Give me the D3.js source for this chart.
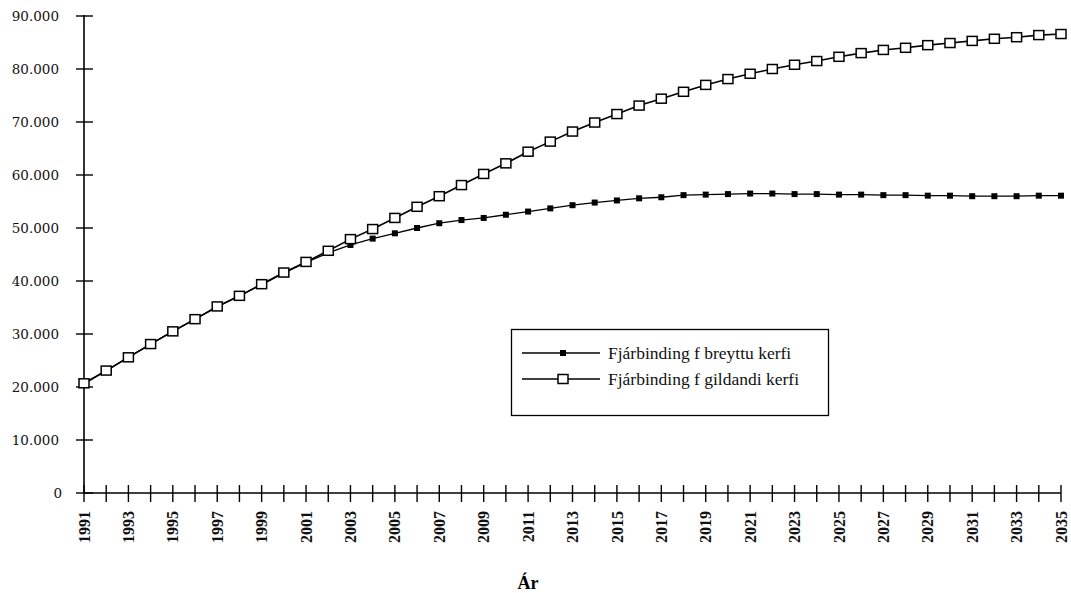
<!DOCTYPE html>
<html>
<head>
<meta charset="utf-8">
<script src="https://cdn.jsdelivr.net/npm/d3@7"></script>
<style>
  body { margin: 0; background: #fff; }
  svg { display: block; }
</style>
</head>
<body>
<svg width="1071" height="593"></svg>
<script>
// Years 1991..2035
const years = d3.range(1991, 2036);

// Fjárbinding í breyttu kerfi (filled squares)
const breyttu = [
  20.6, 23.1, 25.6, 28.1, 30.5, 32.8, 35.1, 37.2, 39.3, 41.5,
  43.5, 45.3, 46.8, 48.0, 49.0, 50.0, 50.9, 51.5, 51.9, 52.5,
  53.1, 53.7, 54.3, 54.8, 55.2, 55.6, 55.8, 56.2, 56.3, 56.4,
  56.5, 56.5, 56.4, 56.4, 56.3, 56.3, 56.2, 56.2, 56.1, 56.1,
  56.0, 56.0, 56.0, 56.1, 56.1
];

// Fjárbinding í gildandi kerfi (open squares)
const gildandi = [
  20.7, 23.1, 25.6, 28.1, 30.5, 32.8, 35.2, 37.2, 39.4, 41.6,
  43.6, 45.7, 47.9, 49.8, 51.9, 54.0, 56.0, 58.1, 60.2, 62.2,
  64.4, 66.3, 68.2, 69.9, 71.5, 73.1, 74.4, 75.7, 77.0, 78.1,
  79.1, 80.0, 80.8, 81.5, 82.3, 83.0, 83.6, 84.0, 84.5, 84.9,
  85.3, 85.7, 86.0, 86.4, 86.6
];

const yTicks = d3.range(0, 90001, 10000);
const xLabelYears = d3.range(1991, 2036, 2);
const legendLabels = ["Fjárbinding f breyttu kerfi", "Fjárbinding f gildandi kerfi"];

const svg = d3.select("svg");

const x = d3.scaleLinear().domain([1991, 2035]).range([84, 1061]);
const y = d3.scaleLinear().domain([0, 90000]).range([493, 16]);

const fmt = v => v === 0 ? "0" : d3.format(",")(v).replace(/,/g, ".");

// y axis
const yAxis = svg.append("g").attr("transform", "translate(84,0)");
yAxis.append("line")
  .attr("y1", y(0)).attr("y2", y(90000) - 1)
  .attr("stroke", "#000").attr("stroke-width", 1.6);
yAxis.selectAll(".yt").data(yTicks).enter().append("line")
  .attr("x1", -8).attr("x2", 9)
  .attr("y1", d => y(d)).attr("y2", d => y(d))
  .attr("stroke", "#000").attr("stroke-width", 1.4);
yAxis.selectAll(".yl").data(yTicks).enter().append("text")
  .attr("x", d => d === 0 ? -22 : -25)
  .attr("y", d => y(d))
  .attr("dy", "0.35em")
  .attr("text-anchor", "end")
  .attr("font-family", "DejaVu Serif")
  .attr("font-size", 13.5)
  .attr("fill", "#111")
  .text(fmt);

// x axis
const xAxis = svg.append("g").attr("transform", `translate(0,${y(0)})`);
xAxis.append("line")
  .attr("x1", x(1991)).attr("x2", x(2035))
  .attr("stroke", "#000").attr("stroke-width", 1.6);
xAxis.selectAll(".xt").data(years).enter().append("line")
  .attr("x1", d => x(d)).attr("x2", d => x(d))
  .attr("y1", -8).attr("y2", 9)
  .attr("stroke", "#000").attr("stroke-width", 1.4);
xAxis.selectAll(".xl").data(xLabelYears).enter().append("text")
  .attr("transform", d => `translate(${x(d)},18) rotate(-90)`)
  .attr("dy", "0.35em")
  .attr("text-anchor", "end")
  .attr("font-family", "Liberation Serif")
  .attr("font-weight", "bold")
  .attr("font-size", 16)
  .attr("fill", "#111")
  .text(d => d);

svg.append("text")
  .attr("x", 528).attr("y", 589)
  .attr("text-anchor", "middle")
  .attr("font-family", "Liberation Serif")
  .attr("font-weight", "bold")
  .attr("font-size", 18)
  .text("Ár");

// lines
const line = d3.line().x((d, i) => x(years[i])).y(d => y(d * 1000));

svg.append("path").datum(breyttu)
  .attr("fill", "none").attr("stroke", "#000").attr("stroke-width", 1.3)
  .attr("d", line);
svg.append("path").datum(gildandi)
  .attr("fill", "none").attr("stroke", "#000").attr("stroke-width", 1.6)
  .attr("d", line);

svg.selectAll(".mb").data(breyttu).enter().append("rect")
  .attr("x", (d, i) => x(years[i]) - 3).attr("y", d => y(d * 1000) - 3)
  .attr("width", 6).attr("height", 6)
  .attr("fill", "#000");

svg.selectAll(".mg").data(gildandi).enter().append("rect")
  .attr("x", (d, i) => x(years[i]) - 5).attr("y", d => y(d * 1000) - 4.5)
  .attr("width", 10).attr("height", 9)
  .attr("fill", "#fff").attr("stroke", "#000").attr("stroke-width", 1.5);

// legend
const lg = svg.append("g");
lg.append("rect")
  .attr("x", 511.5).attr("y", 329.5).attr("width", 317).attr("height", 86)
  .attr("fill", "#fff").attr("stroke", "#000").attr("stroke-width", 1.3);

const rows = [353, 379];
lg.selectAll(".ll").data(rows).enter().append("line")
  .attr("x1", 522).attr("x2", 600)
  .attr("y1", d => d).attr("y2", d => d)
  .attr("stroke", "#000").attr("stroke-width", 1.3);
lg.append("rect").attr("x", 560).attr("y", rows[0] - 3).attr("width", 6).attr("height", 6).attr("fill", "#000");
lg.append("rect").attr("x", 558).attr("y", rows[1] - 4.5).attr("width", 10).attr("height", 9)
  .attr("fill", "#fff").attr("stroke", "#000").attr("stroke-width", 1.5);
lg.selectAll(".lt").data(legendLabels).enter().append("text")
  .attr("x", 608).attr("y", (d, i) => rows[i])
  .attr("dy", "0.35em")
  .attr("font-family", "Liberation Serif")
  .attr("font-size", 17.5)
  .attr("fill", "#111")
  .text(d => d);
</script>
</body>
</html>
